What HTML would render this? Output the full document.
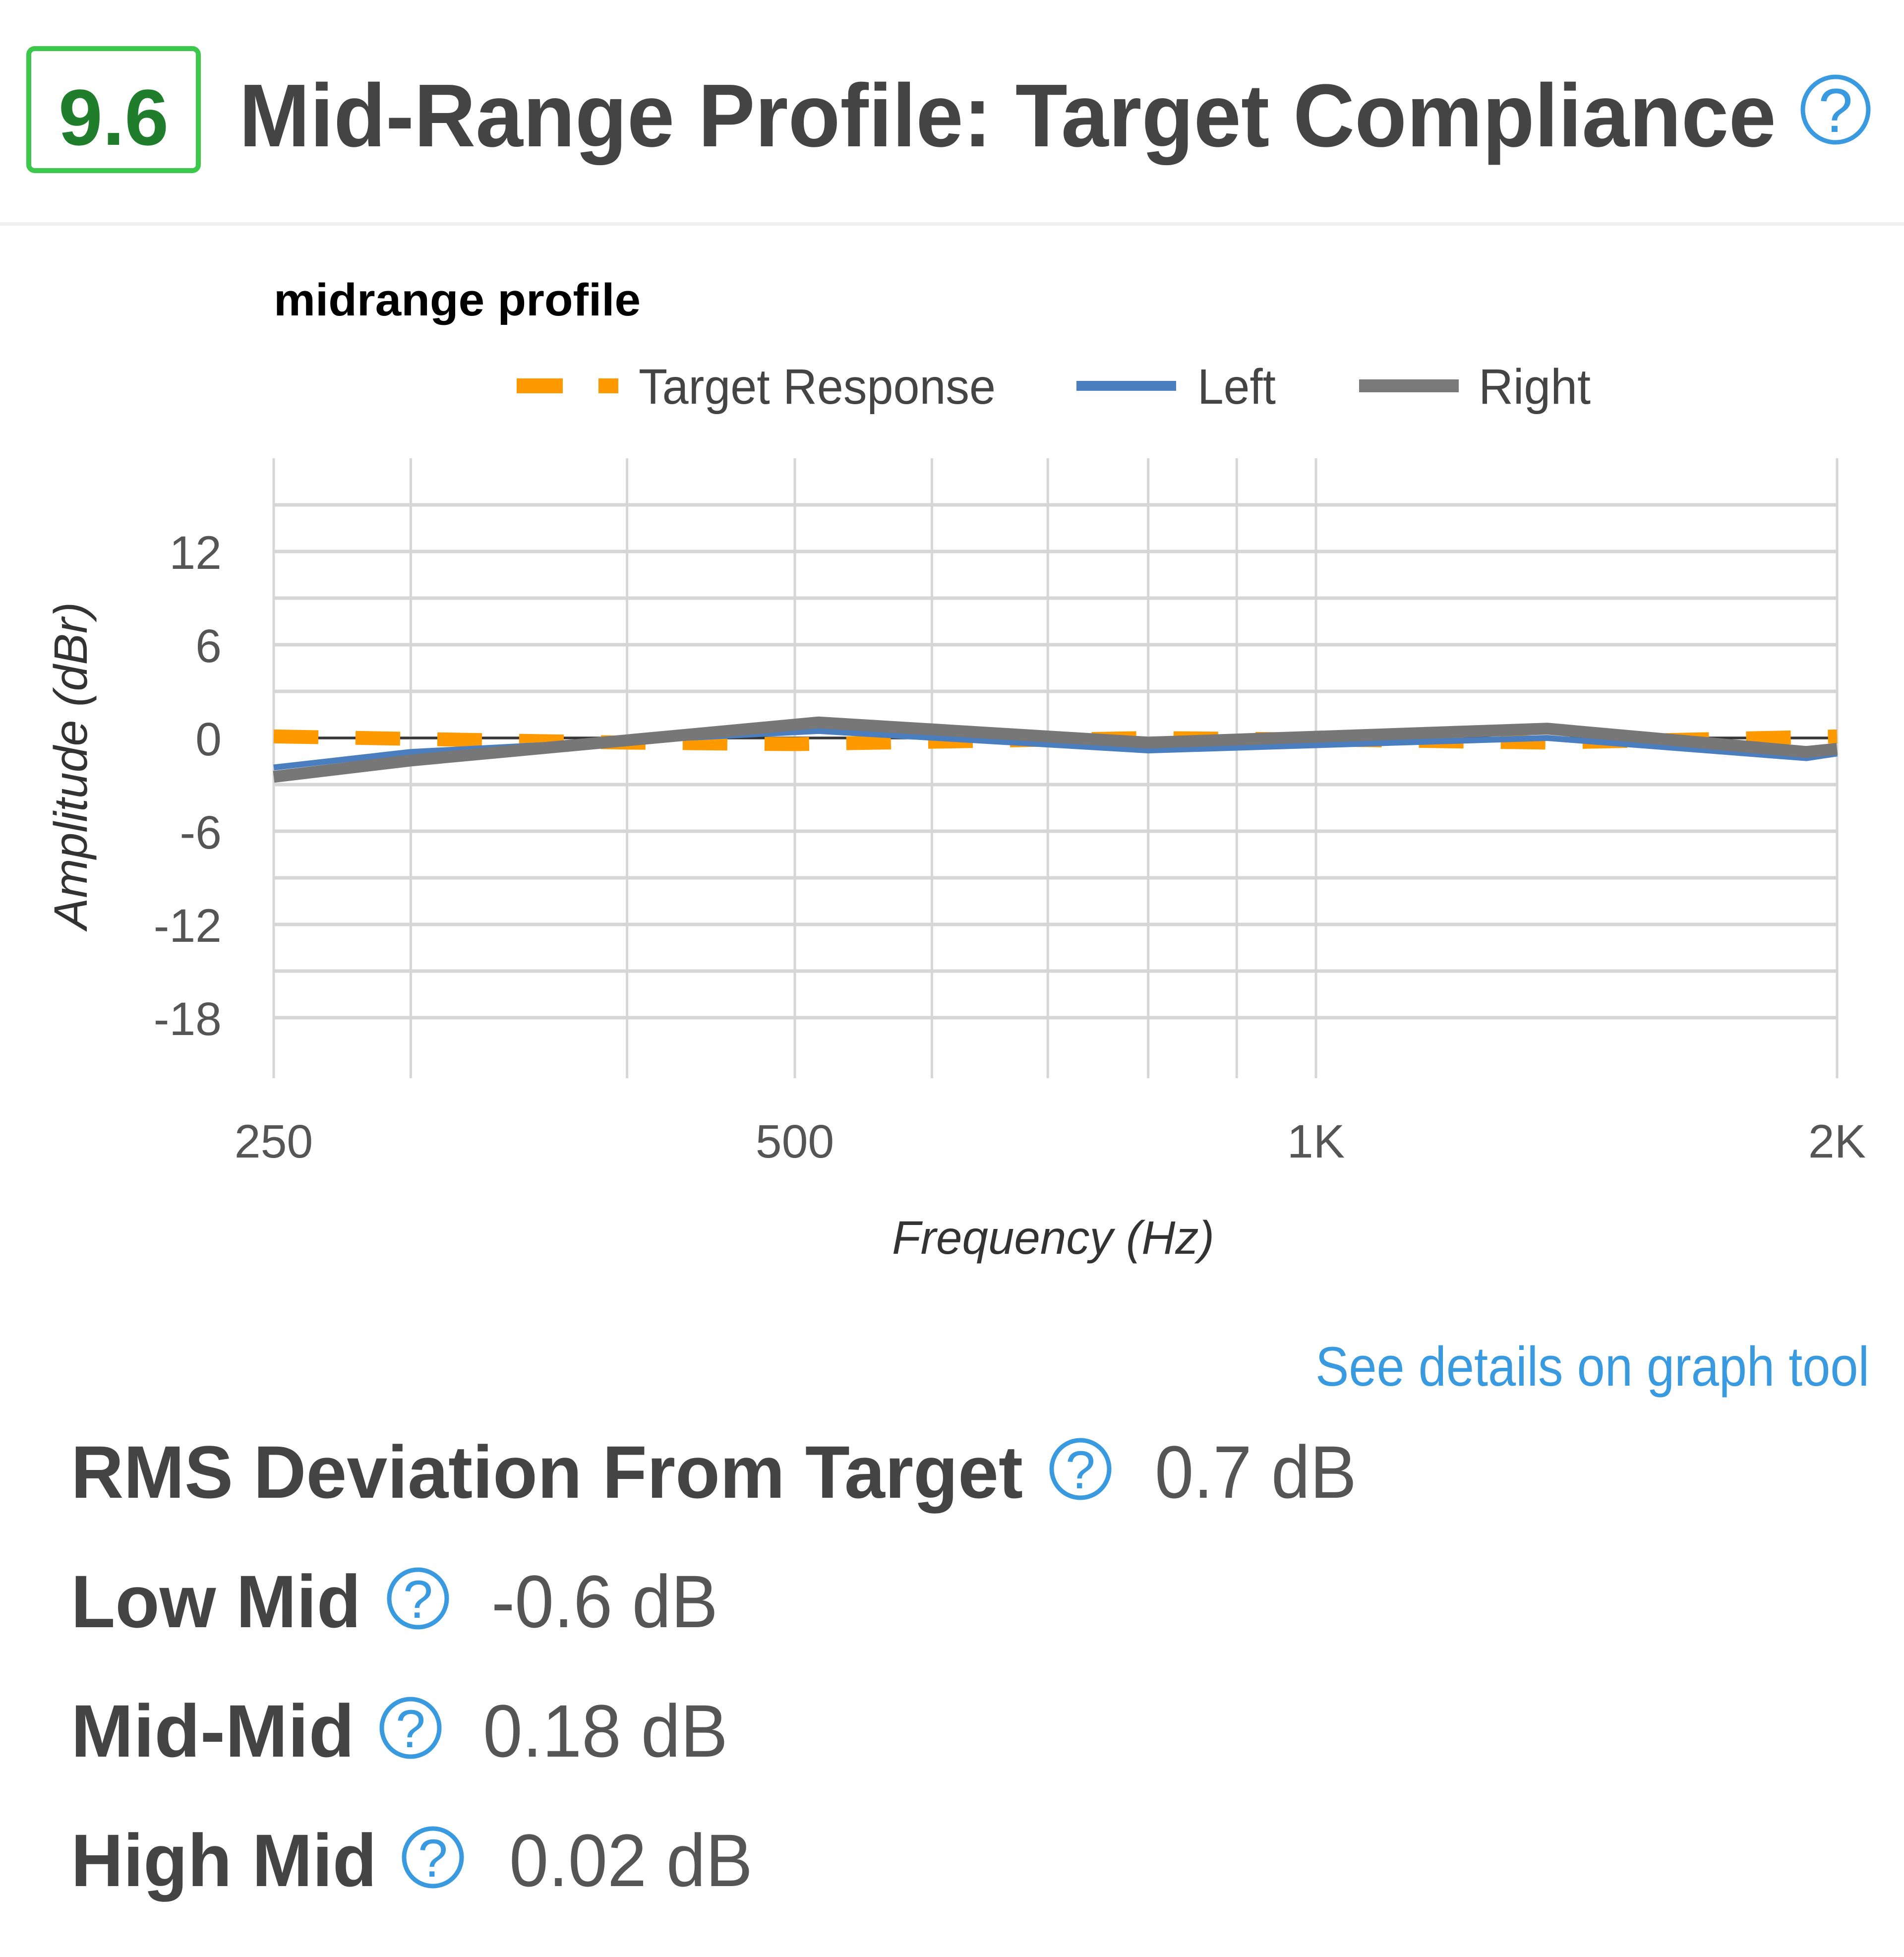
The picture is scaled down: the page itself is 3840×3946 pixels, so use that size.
<!DOCTYPE html>
<html><head><meta charset="utf-8"><style>
html,body{margin:0;padding:0;background:#fff;}
svg{display:block;}
text{font-family:"Liberation Sans",sans-serif;}
</style></head><body>
<svg id="page" width="3840" height="3946" viewBox="0 0 3840 3946" xmlns="http://www.w3.org/2000/svg">
<rect x="0" y="0" width="3840" height="3946" fill="#fff"/>
<rect x="58" y="98" width="342" height="246" rx="12" fill="#fff" stroke="#3cc84a" stroke-width="10"/>
<text x="229" y="292" text-anchor="middle" font-size="160" font-weight="bold" fill="#1f7d2c">9.6</text>
<text x="482" y="295" font-size="180" font-weight="bold" fill="#444" textLength="3100" lengthAdjust="spacingAndGlyphs">Mid-Range Profile: Target Compliance</text>
<g>
<circle cx="3702" cy="221" r="66" fill="none" stroke="#3a9ae0" stroke-width="9"/>
<text x="3702" y="266" text-anchor="middle" font-size="125" fill="#3a9ae0">?</text>
</g>
<rect x="0" y="448" width="3840" height="7" fill="#f0f0f0"/>
<text x="552" y="636" font-size="92" font-weight="bold" fill="#000" textLength="740" lengthAdjust="spacingAndGlyphs">midrange profile</text>
<g>
<g>
<rect x="1042" y="763" width="93" height="30" fill="#ff9900"/>
<rect x="1207" y="763" width="40" height="30" fill="#ff9900"/>
<text x="1288" y="814" font-size="100" fill="#444" textLength="720" lengthAdjust="spacingAndGlyphs">Target Response</text>
</g>
<g>
<rect x="2171" y="768" width="201" height="20" fill="#4a7ebf"/>
<text x="2415" y="814" font-size="100" fill="#444" textLength="158" lengthAdjust="spacingAndGlyphs">Left</text>
</g>
<g>
<rect x="2741" y="765" width="201" height="26" fill="#7a7a7a"/>
<text x="2982" y="814" font-size="100" fill="#444" textLength="226" lengthAdjust="spacingAndGlyphs">Right</text>
</g>
</g>
<g id="grid"></g>
<g id="yticks"></g>
<g id="xticks"></g>
<g id="series"></g>
<text transform="translate(175,1544) rotate(-90)" text-anchor="middle" font-size="95" font-style="italic" fill="#333" textLength="660" lengthAdjust="spacingAndGlyphs">Amplitude (dBr)</text>
<text x="2124" y="2528" text-anchor="middle" font-size="95" font-style="italic" fill="#333" textLength="650" lengthAdjust="spacingAndGlyphs">Frequency (Hz)</text>
<text x="3770" y="2794" text-anchor="end" font-size="112" fill="#3a9ae0" textLength="1117" lengthAdjust="spacingAndGlyphs">See details on graph tool</text>

<text x="143" y="3020" font-size="150" font-weight="bold" fill="#444" textLength="1920" lengthAdjust="spacingAndGlyphs">RMS Deviation From Target</text>
<g><circle cx="2179" cy="2962" r="58" fill="none" stroke="#3a9ae0" stroke-width="9"/><text x="2179" y="3001" text-anchor="middle" font-size="108" fill="#3a9ae0">?</text></g>
<text x="2329" y="3020" font-size="150" fill="#555" textLength="407" lengthAdjust="spacingAndGlyphs">0.7 dB</text>

<text x="143" y="3281" font-size="150" font-weight="bold" fill="#444" textLength="585" lengthAdjust="spacingAndGlyphs">Low Mid</text>
<g><circle cx="843" cy="3223" r="58" fill="none" stroke="#3a9ae0" stroke-width="9"/><text x="843" y="3262" text-anchor="middle" font-size="108" fill="#3a9ae0">?</text></g>
<text x="991" y="3281" font-size="150" fill="#555" textLength="457" lengthAdjust="spacingAndGlyphs">-0.6 dB</text>

<text x="143" y="3542" font-size="150" font-weight="bold" fill="#444" textLength="572" lengthAdjust="spacingAndGlyphs">Mid-Mid</text>
<g><circle cx="828" cy="3484" r="58" fill="none" stroke="#3a9ae0" stroke-width="9"/><text x="828" y="3523" text-anchor="middle" font-size="108" fill="#3a9ae0">?</text></g>
<text x="974" y="3542" font-size="150" fill="#555" textLength="494" lengthAdjust="spacingAndGlyphs">0.18 dB</text>

<text x="143" y="3803" font-size="150" font-weight="bold" fill="#444" textLength="617" lengthAdjust="spacingAndGlyphs">High Mid</text>
<g><circle cx="873" cy="3745" r="58" fill="none" stroke="#3a9ae0" stroke-width="9"/><text x="873" y="3784" text-anchor="middle" font-size="108" fill="#3a9ae0">?</text></g>
<text x="1027" y="3803" font-size="150" fill="#555" textLength="491" lengthAdjust="spacingAndGlyphs">0.02 dB</text>
</svg>
<script>
const gridFreqs = [250,300,400,500,600,700,800,900,1000,2000];
const xTickValues = [250,500,1000,2000];
const xTickLabels = ["250","500","1K","2K"];
const yGridValues = [15,12,9,6,3,0,-3,-6,-9,-12,-15,-18];
const yTickValues = [12,6,0,-6,-12,-18];
const yTickLabels = ["12","6","0","-6","-12","-18"];
const targetFreqs = [250,400,500,800,1000,1360,2000];
const targetValues = [0.1,-0.3,-0.4,0.0,-0.1,-0.3,0.1];
const leftFreqs = [250,300,516,800,1360,1920,2000];
const leftValues = [-1.9,-0.9,0.45,-0.8,0.0,-1.3,-1.0];
const rightFreqs = [250,300,516,800,1360,1920,2000];
const rightValues = [-2.5,-1.45,1.0,-0.3,0.6,-0.9,-0.7];

const NS = "http://www.w3.org/2000/svg";
const X0=552, X1=3705, PT=924, PB=2174;
function xs(f){ return X0 + (Math.log2(f/250)/3)*(X1-X0); }
const YZ=1488, PER=94/3;
function ys(v){ return YZ - v*PER; }
function mk(tag, attrs, parent){ const e=document.createElementNS(NS,tag); for(const k in attrs) e.setAttribute(k,attrs[k]); parent.appendChild(e); return e; }

const grid=document.getElementById('grid');
yGridValues.forEach(v=>{
  const l=mk('line',{x1:X0,x2:X1,y1:ys(v),y2:ys(v),stroke:'#d6d6d6','stroke-width':7},grid);
  
  
});
gridFreqs.forEach(f=>{
  const l=mk('line',{x1:xs(f),x2:xs(f),y1:PT,y2:PB,stroke:'#d6d6d6','stroke-width':5},grid);
  
  
});
const zl=mk('line',{x1:X0,x2:X1,y1:ys(0),y2:ys(0),stroke:'#333','stroke-width':5},grid);



const yt=document.getElementById('yticks');
yTickValues.forEach((v,i)=>{
  const t=mk('text',{x:447,y:ys(v)+35,'text-anchor':'end','font-size':95,fill:'#555'},yt);
  t.textContent=yTickLabels[i];
  
  
});
const xt=document.getElementById('xticks');
xTickValues.forEach((f,i)=>{
  const t=mk('text',{x:xs(f),y:2334,'text-anchor':'middle','font-size':95,fill:'#555'},xt);
  t.textContent=xTickLabels[i];
  
  
});

const sg=document.getElementById('series');
function pts(fr,vals){ return fr.map((f,i)=>xs(f).toFixed(1)+','+ys(vals[i]).toFixed(1)).join(' '); }
const tl=mk('polyline',{points:pts(targetFreqs,targetValues),fill:'none',stroke:'#ff9900','stroke-width':28,'stroke-dasharray':'90 75'},sg);


const ll=mk('polyline',{points:pts(leftFreqs,leftValues),fill:'none',stroke:'#4a7ebf','stroke-width':12,'stroke-linejoin':'round'},sg);


const rl=mk('polyline',{points:pts(rightFreqs,rightValues),fill:'none',stroke:'#777','stroke-width':24,'stroke-linejoin':'round'},sg);


</script>
</body></html>
